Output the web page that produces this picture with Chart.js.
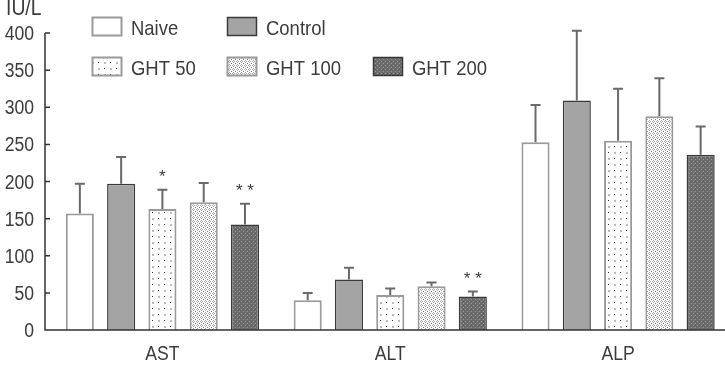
<!DOCTYPE html>
<html>
<head>
<meta charset="utf-8">
<script src="https://cdn.jsdelivr.net/npm/chart.js@4/dist/chart.umd.min.js"></script>
<style>
html, body { margin: 0; padding: 0; background: #fff; overflow: hidden; }
#wrap { width: 732px; height: 367px; position: relative; }
</style>
</head>
<body>
<div id="wrap"><canvas id="myChart"></canvas></div>
<script>
// values (mean and upper SD)
const categories = ["AST", "ALT", "ALP"];
const groupNames = ["Naive", "Control", "GHT 50", "GHT 100", "GHT 200"];
const naive = [157, 40, 253];
const naiveSD = [40, 10, 50];
const control = [197, 68, 309];
const controlSD = [36, 16, 94];
const ght50 = [163, 47, 255];
const ght50SD = [26, 9, 70];
const ght100 = [172, 59, 288];
const ght100SD = [26, 5, 51];
const ght200 = [142, 45, 236];
const ght200SD = [28, 7, 38];
const marks50 = ["*", "", ""];
const marks200 = ["* *", "* *", ""];
const yTicks = [0, 50, 100, 150, 200, 250, 300, 350, 400];

const textColor = '#3c3c3c';
const font = "'Liberation Sans', Arial, sans-serif";

function makePattern(size, bg, dots) {
    const c = document.createElement('canvas');
    c.width = size; c.height = size;
    const g = c.getContext('2d');
    g.fillStyle = bg;
    g.fillRect(0, 0, size, size);
    dots.forEach(d => {
        g.fillStyle = d[2];
        g.fillRect(d[0], d[1], d[3] || 1, d[3] || 1);
    });
    return g.createPattern(c, 'repeat');
}

const sparseDots = makePattern(12, '#fff', [[2, 2, '#333'], [8, 8, '#333'], [8, 2, '#bbb', 2], [2, 8, '#bbb', 2]]);
const denseDots = makePattern(4, '#fff', [[1, 0, '#aaa'], [0, 1, '#aaa'], [2, 1, '#aaa'], [1, 2, '#aaa'], [3, 3, '#777']]);
const darkDots = makePattern(4, '#6c6c6c', [[1, 1, '#9c9c9c'], [3, 3, '#9c9c9c'], [3, 1, '#555']]);

const styles = [
    { fill: '#fff', border: '#9a9a9a', width: 2 },
    { fill: '#a4a4a4', border: '#3a3a3a', width: 1.5 },
    { fill: sparseDots, border: '#9a9a9a', width: 2 },
    { fill: denseDots, border: '#9a9a9a', width: 2 },
    { fill: darkDots, border: '#3a3a3a', width: 1.5 }
];
const values = [naive, control, ght50, ght100, ght200];
const sds = [naiveSD, controlSD, ght50SD, ght100SD, ght200SD];
const marks = [null, null, marks50, null, marks200];

const datasets = values.map((v, i) => ({
    label: groupNames[i],
    data: v,
    sd: sds[i],
    marks: marks[i],
    backgroundColor: styles[i].fill,
    borderColor: styles[i].border,
    borderWidth: styles[i].width,
    categoryPercentage: 0.906,
    barPercentage: 0.68
}));

// narrow text, like the condensed face of the original figure
function narrowText(ctx, text, x, y, size, align) {
    ctx.save();
    ctx.font = size + 'px ' + font;
    ctx.textAlign = align;
    ctx.textBaseline = 'alphabetic';
    ctx.fillStyle = textColor;
    ctx.translate(x, y);
    ctx.scale(0.88, 1);
    ctx.fillText(text, 0, 0);
    ctx.restore();
}

const extras = {
    id: 'extras',
    afterDatasetsDraw(chart) {
        const ctx = chart.ctx;
        const y = chart.scales.y;
        const x = chart.scales.x;
        const area = chart.chartArea;
        ctx.save();
        // error bars and significance marks
        chart.data.datasets.forEach((ds, i) => {
            const meta = chart.getDatasetMeta(i);
            meta.data.forEach((bar, j) => {
                const top = y.getPixelForValue(ds.data[j] + ds.sd[j]);
                ctx.strokeStyle = '#6a6a6a';
                ctx.lineWidth = 2;
                ctx.beginPath();
                ctx.moveTo(bar.x, bar.y);
                ctx.lineTo(bar.x, top);
                ctx.moveTo(bar.x - 5, top);
                ctx.lineTo(bar.x + 5, top);
                ctx.stroke();
                if (ds.marks && ds.marks[j]) {
                    ctx.fillStyle = textColor;
                    ctx.font = '17px ' + font;
                    ctx.textAlign = 'center';
                    ctx.textBaseline = 'middle';
                    ctx.fillText(ds.marks[j], bar.x, top - 12);
                }
            });
        });
        // axes with inside ticks
        const axisX = 45;
        const y0 = y.getPixelForValue(0);
        ctx.strokeStyle = '#333';
        ctx.lineWidth = 1.5;
        ctx.beginPath();
        ctx.moveTo(axisX, y.getPixelForValue(400));
        ctx.lineTo(axisX, y0);
        ctx.lineTo(area.right, y0);
        yTicks.forEach(t => {
            const p = y.getPixelForValue(t);
            ctx.moveTo(axisX, p);
            ctx.lineTo(axisX + 5, p);
        });
        ctx.stroke();
        // category labels and y tick labels
        categories.forEach((c, i) => narrowText(ctx, c, x.getPixelForValue(i), y0 + 30, 20, 'center'));
        yTicks.forEach(t => narrowText(ctx, String(t), 34, y.getPixelForValue(t) + 7, 20, 'right'));
        // unit label
        narrowText(ctx, 'IU/L', 6, 15, 22, 'left');
        // legend
        const slots = [[92, 17], [227, 17], [92, 57], [227, 57], [373, 57]];
        slots.forEach((s, i) => {
            ctx.fillStyle = styles[i].fill;
            ctx.fillRect(s[0], s[1], 30, 19);
            ctx.strokeStyle = styles[i].border;
            ctx.lineWidth = styles[i].width;
            ctx.strokeRect(s[0] + 0.5, s[1] + 0.5, 29, 18);
            narrowText(ctx, groupNames[i], s[0] + 39, s[1] + 18, 21, 'left');
        });
        ctx.restore();
    }
};

new Chart(document.getElementById('myChart'), {
    type: 'bar',
    data: { labels: categories, datasets: datasets },
    options: {
        responsive: true,
        maintainAspectRatio: false,
        animation: false,
        layout: { padding: { top: 33, right: 0, left: 0, bottom: 0 } },
        plugins: { legend: { display: false }, tooltip: { enabled: false } },
        scales: {
            x: {
                grid: { display: false, drawTicks: false },
                border: { display: false },
                ticks: { display: false },
                afterFit(scale) { scale.height = 37; }
            },
            y: {
                min: 0,
                max: 400,
                grid: { display: false, drawTicks: false },
                border: { display: false },
                ticks: { display: false, stepSize: 50 },
                afterFit(scale) { scale.width = 48.5; }
            }
        }
    },
    plugins: [extras]
});
</script>
</body>
</html>
